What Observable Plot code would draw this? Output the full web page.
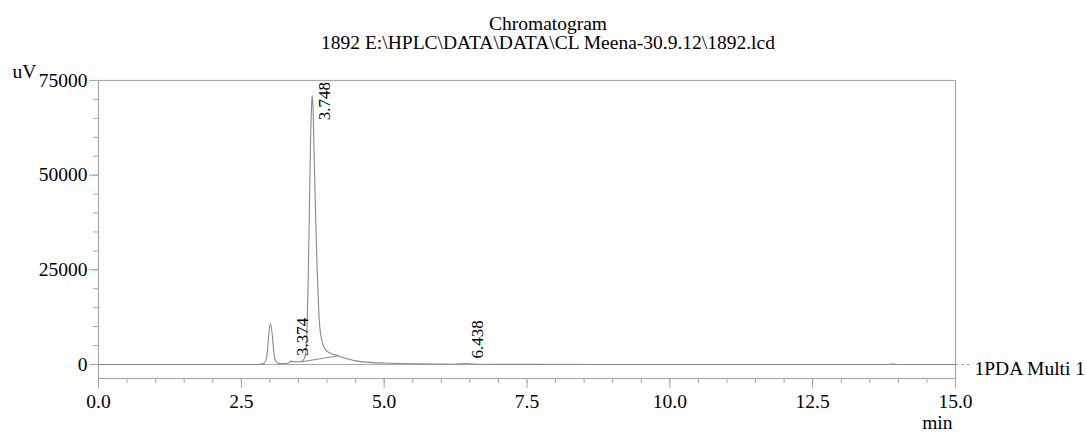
<!DOCTYPE html>
<html>
<head>
<meta charset="utf-8">
<script src="https://cdn.jsdelivr.net/npm/d3@7"></script>
<script src="https://cdn.jsdelivr.net/npm/@observablehq/plot@0.6"></script>
<style>
  html, body { margin: 0; padding: 0; background: #fff; }
  body { width: 1086px; height: 433px; overflow: hidden; font-family: "Liberation Serif", "DejaVu Serif", serif; color: #000; }
  #head { position: relative; height: 58px; width: 1086px; }
  #head div { position: absolute; left: 0; width: 1096px; text-align: center; font-size: 19.5px; line-height: 20px; white-space: nowrap; }
  #t1 { top: 14px; }
  #t2 { top: 33px; }
</style>
</head>
<body>
<div id="head">
  <div id="t1">Chromatogram</div>
  <div id="t2">1892 E:\HPLC\DATA\DATA\CL Meena-30.9.12\1892.lcd</div>
</div>
<div id="chart"></div>
<script>
// Retention time (min) and detector signal (uV)
const time = [0, 1.0, 2.0, 2.80, 2.90, 2.95, 2.98, 3.01, 3.04, 3.07, 3.10, 3.15, 3.25, 3.32, 3.374, 3.45, 3.55,
  3.60, 3.63, 3.65, 3.67, 3.69, 3.71, 3.73, 3.74, 3.755, 3.77, 3.79, 3.81, 3.83, 3.85, 3.87, 3.90, 3.93, 3.97,
  4.03, 4.10, 4.18, 4.25, 4.35, 4.45, 4.60, 4.80, 5.00, 5.30, 5.60, 6.00, 6.20, 6.35, 6.438, 6.55, 6.70, 7.50,
  10.0, 13.8, 13.9, 14.0, 15.0];
const signal = [0, 0, 0, 0, 300, 2500, 8000, 10800, 8000, 3000, 900, 300, 250, 400, 900, 700, 800,
  1500, 4000, 10000, 22000, 40000, 58000, 68500, 71000, 68000, 58000, 45000, 34000, 24000, 16000, 10500, 7000, 5200, 4000,
  3200, 2700, 2400, 2000, 1500, 1100, 750, 500, 400, 250, 170, 100, 80, 150, 280, 120, 50, 20,
  0, 0, 120, 0, 0];

// Integration baseline under the main peak
const baseTime = [3.55, 4.20];
const baseSignal = [700, 2300];

// Peak labels
const peakTimes = [3.374, 3.748, 6.438];
const peakHeights = [900, 71000, 280];

const yTicks = [0, 25000, 50000, 75000];
const xTicks = [0, 2.5, 5, 7.5, 10, 12.5, 15];
const channel = "1PDA Multi 1";

const trace = time.map((t, i) => ({t, v: signal[i]}));
const base = baseTime.map((t, i) => ({t, v: baseSignal[i]}));
const peaks = peakTimes.map((t, i) => ({t, h: peakHeights[i], label: t.toFixed(3)}));

const gray = "#a8a8a8";
const labelCap = 64500; // labels of tall peaks are kept inside the frame
const FONT = "'Liberation Serif', 'DejaVu Serif', serif";

const chart = Plot.plot({
  width: 1086,
  height: 375,
  marginLeft: 98,
  marginRight: 131,
  marginTop: 22,
  marginBottom: 55,
  style: {fontFamily: FONT, fontSize: "19.5px", color: "#000", background: "#fff"},
  x: {domain: [0, 15], label: null},
  y: {domain: [-3700, 75000], label: null},
  marks: [
    Plot.frame({stroke: gray, strokeWidth: 1.2}),
    Plot.ruleY([0], {stroke: gray, strokeWidth: 1.2}),
    // dashed continuation to the channel label
    Plot.ruleY([0], {x1: 15, x2: 15.32, stroke: gray, strokeDasharray: "3,3"}),
    Plot.text([channel], {frameAnchor: "right", y: () => 0, dx: 19, dy: 4, textAnchor: "start", fontSize: 19.5}),
    // minor ticks
    Plot.axisY({ticks: d3.range(0, 75001, 5000), tickSize: 5, text: null, stroke: gray}),
    Plot.axisX({ticks: d3.range(0, 15.01, 0.5), tickSize: 5, text: null, stroke: gray}),
    // major ticks
    Plot.axisY({ticks: yTicks, tickSize: 9, tickPadding: 2, tickFormat: d => String(d), stroke: gray, label: null, fontSize: 19.5}),
    Plot.axisX({ticks: xTicks, tickSize: 10, tickPadding: 6, tickFormat: d => d.toFixed(1), stroke: gray, label: null, fontSize: 19.5}),
    Plot.text(["uV"], {frameAnchor: "top-left", dx: -86, dy: -3, textAnchor: "start", lineAnchor: "bottom", fontSize: 19.5}),
    Plot.text(["min"], {frameAnchor: "bottom-right", dx: -3, dy: 50, textAnchor: "end", lineAnchor: "bottom", fontSize: 19.5}),
    // chromatogram trace
    Plot.line(trace, {x: "t", y: "v", stroke: "#8a8a8a", strokeWidth: 1.1, curve: "monotone-x"}),
    Plot.line(base, {x: "t", y: "v", stroke: "#8a8a8a", strokeWidth: 1}),
    // peak labels, rotated
    Plot.text(peaks, {
      filter: d => d.h > labelCap,
      x: "t", y: () => labelCap, text: "label",
      rotate: -90, textAnchor: "start", dx: 12, fontSize: 17
    }),
    Plot.text(peaks, {
      filter: d => d.h <= labelCap,
      x: "t", y: "h", text: "label",
      rotate: -90, textAnchor: "start", dx: 11, dy: -5, fontSize: 17
    })
  ]
});
document.getElementById("chart").appendChild(chart);
</script>
</body>
</html>
